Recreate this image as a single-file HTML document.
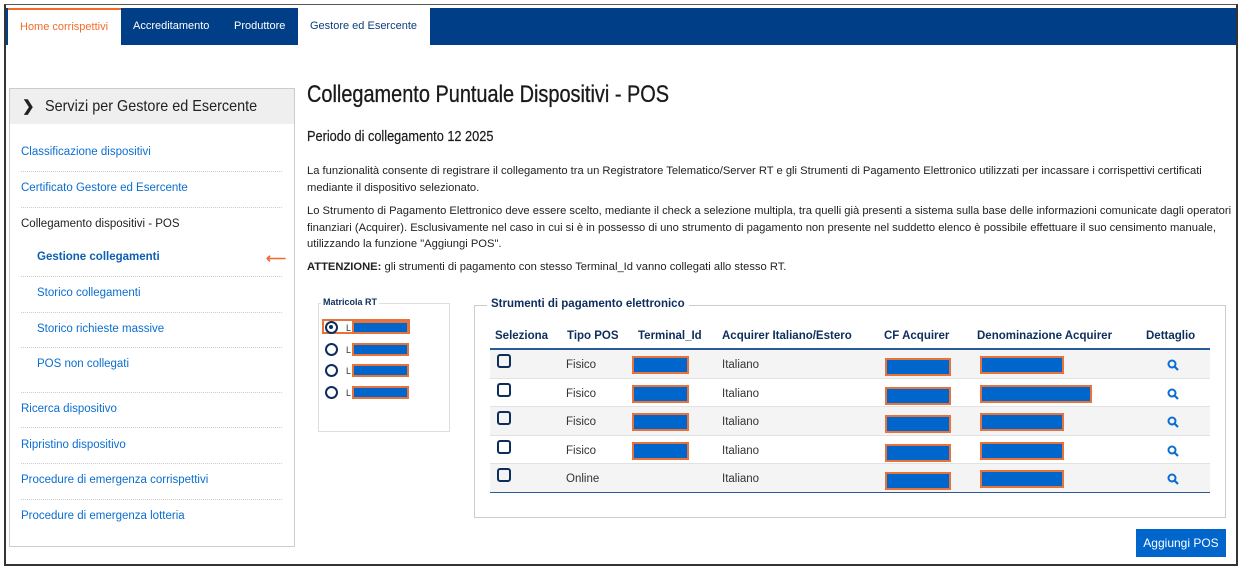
<!DOCTYPE html>
<html><head><meta charset="utf-8"><style>
*{box-sizing:border-box;margin:0;padding:0}
body{width:1242px;height:572px;background:#fff;font-family:"Liberation Sans",Arial,sans-serif;position:relative;overflow:hidden;color:#222}
.abs{position:absolute}
.frame{left:4px;top:4px;width:1234px;height:562px;border:2px solid #333;border-top:1px solid #555}
.nav{left:6px;top:8px;width:1230px;height:37px;background:#003f87}
.tab{top:8px;height:37px;font-size:11px;line-height:37px;padding:0 12px;color:#fff;white-space:nowrap}
.side{left:9px;top:88px;width:286px;height:459px;border:1px solid #ccc}
.sidehd{left:10px;top:89px;width:284px;height:35px;background:#efefef;font-size:16px;line-height:35px;color:#222}
.si{left:21px;font-size:11.5px;color:#0a6ed1;white-space:nowrap}
.dv{left:21px;width:261px;border-top:1px dotted #ccc;height:0}
.ptext{left:307px;font-size:11.2px;line-height:16.5px;color:#222;width:925px}
.red{background:#0066cc;border:2px solid #e8733a;height:18px}
.th{top:330px;font-size:11.5px;font-weight:bold;color:#0d2e5c;white-space:nowrap}
.td{font-size:11.5px;color:#333}
.cb{width:14px;height:14px;border:2px solid #0d2e5c;border-radius:3px}
.radio{width:13px;height:13px;border:2.5px solid #0d2e5c;border-radius:50%}
</style></head><body>
<div class="abs frame"></div>
<div class="abs nav"></div>
<div class="abs tab" style="left:8px;width:113px;background:#fff;color:#f26b2a;border-top:2px solid #f26b2a;line-height:35px">Home corrispettivi</div>
<div class="abs tab" style="left:121px">Accreditamento</div>
<div class="abs tab" style="left:222px">Produttore</div>
<div class="abs tab" style="left:298px;width:132px;background:#fff;color:#0d3e7a">Gestore ed Esercente</div>

<div class="abs side"></div>
<div class="abs sidehd"><span style="position:absolute;left:12px;font-weight:bold;font-size:15px">&#x276F;</span><span style="position:absolute;left:35px;display:inline-block;transform:scaleX(.9);transform-origin:left;white-space:nowrap">Servizi per Gestore ed Esercente</span></div>
<div class="abs si" style="top:146px">Classificazione dispositivi</div>
<div class="abs dv" style="top:171px"></div>
<div class="abs si" style="top:182px">Certificato Gestore ed Esercente</div>
<div class="abs dv" style="top:207px"></div>
<div class="abs si" style="top:218px;color:#222">Collegamento dispositivi - POS</div>
<div class="abs si" style="top:251px;left:37px;font-weight:bold;color:#0d5fb0">Gestione collegamenti</div>
<div class="abs" style="left:266px;top:251px;color:#f26b2a;font-size:14px;line-height:14px;font-weight:bold">&#x27F5;</div>
<div class="abs dv" style="top:276px"></div>
<div class="abs si" style="top:287px;left:37px">Storico collegamenti</div>
<div class="abs dv" style="top:312px"></div>
<div class="abs si" style="top:323px;left:37px">Storico richieste massive</div>
<div class="abs dv" style="top:347px"></div>
<div class="abs si" style="top:358px;left:37px">POS non collegati</div>
<div class="abs dv" style="top:392px"></div>
<div class="abs si" style="top:403px">Ricerca dispositivo</div>
<div class="abs dv" style="top:427px"></div>
<div class="abs si" style="top:439px">Ripristino dispositivo</div>
<div class="abs dv" style="top:463px"></div>
<div class="abs si" style="top:474px">Procedure di emergenza corrispettivi</div>
<div class="abs dv" style="top:499px"></div>
<div class="abs si" style="top:510px">Procedure di emergenza lotteria</div>

<div class="abs" style="left:307px;top:81px;font-size:24px;white-space:nowrap;transform:scaleX(.83);transform-origin:left;color:#1a1a1a;-webkit-text-stroke:0.3px #1a1a1a">Collegamento Puntuale Dispositivi - POS</div>
<div class="abs" style="left:307px;top:128px;font-size:15px;white-space:nowrap;transform:scaleX(.85);transform-origin:left;color:#1a1a1a;-webkit-text-stroke:0.2px #1a1a1a">Periodo di collegamento 12 2025</div>
<div class="abs ptext" style="top:163px">La funzionalità consente di registrare il collegamento tra un Registratore Telematico/Server RT e gli Strumenti di Pagamento Elettronico utilizzati per incassare i corrispettivi certificati mediante il dispositivo selezionato.</div>
<div class="abs ptext" style="top:203px">Lo Strumento di Pagamento Elettronico deve essere scelto, mediante il check a selezione multipla, tra quelli già presenti a sistema sulla base delle informazioni comunicate dagli operatori finanziari (Acquirer). Esclusivamente nel caso in cui si è in possesso di uno strumento di pagamento non presente nel suddetto elenco è possibile effettuare il suo censimento manuale, utilizzando la funzione "Aggiungi POS".</div>
<div class="abs ptext" style="top:259px"><b>ATTENZIONE:</b> gli strumenti di pagamento con stesso Terminal_Id vanno collegati allo stesso RT.</div>

<div class="abs" style="left:318px;top:303px;width:132px;height:129px;border:1px solid #ddd"></div>
<div class="abs" style="left:321px;top:297px;background:#fff;padding:0 2px;font-size:9px;font-weight:bold;color:#0d2e5c">Matricola RT</div>
<div class="abs" style="left:322px;top:319px;width:88px;height:15px;border:2px solid #e8733a"></div>
<div id="radios"></div>

<div class="abs" style="left:474px;top:305px;width:752px;height:213px;border:1px solid #ccc"></div>
<div class="abs" style="left:487px;top:298px;background:#fff;padding:0 4px;font-size:11.5px;font-weight:bold;color:#0d2e5c">Strumenti di pagamento elettronico</div>
<div class="abs th" style="left:495px">Seleziona</div>
<div class="abs th" style="left:567px">Tipo POS</div>
<div class="abs th" style="left:638px">Terminal_Id</div>
<div class="abs th" style="left:722px">Acquirer Italiano/Estero</div>
<div class="abs th" style="left:884px">CF Acquirer</div>
<div class="abs th" style="left:977px">Denominazione Acquirer</div>
<div class="abs th" style="left:1146px">Dettaglio</div>
<div class="abs" style="left:490px;top:348px;width:720px;height:2px;background:#2a5a9a"></div>
<div id="rows"></div>
<div class="abs" style="left:490px;top:492px;width:720px;height:1px;background:#2a5a9a"></div>

<div class="abs" style="left:1136px;top:529px;width:90px;height:28px;background:#0066cc;color:#fff;font-size:12px;line-height:28px;text-align:center">Aggiungi POS</div>

<script>
const tipo=["Fisico","Fisico","Fisico","Fisico","Online"];
const acq=["Italiano","Italiano","Italiano","Italiano","Italiano"];
const denomW=[84,112,84,84,84];
const rows=document.getElementById('rows');
tipo.forEach((t,i)=>{
  const y=350+i*28.5;
  const r=document.createElement('div');
  r.className='abs';
  
  
  r.style.cssText=`left:490px;top:${y}px;width:720px;height:28.5px;background:${i%2==0?'#f4f4f4':'#fff'};border-bottom:1px solid #e2e2e2`;
  r.innerHTML=`<div class="abs cb" style="left:7px;top:4px"></div>
  <div class="abs td" style="left:76px;top:9px">${t}</div>
  ${t==="Online"?'':'<div class="abs red" style="left:142px;top:6px;width:57px"></div>'}
  <div class="abs td" style="left:232px;top:9px">${acq[i]}</div>
  <div class="abs red" style="left:395px;top:8px;width:66px"></div>
  <div class="abs red" style="left:490px;top:6px;width:${denomW[i]}px"></div>
  <svg class="abs" style="left:677px;top:9px" width="12" height="12"><circle cx="5" cy="5" r="3.5" fill="none" stroke="#0a6ed1" stroke-width="2"/><line x1="7.5" y1="7.5" x2="11" y2="11" stroke="#0a6ed1" stroke-width="2.2"/></svg>`;
  rows.appendChild(r);
});
const rad=document.getElementById('radios');
[0,1,2,3].forEach(i=>{
  const y=320+i*21.5;
  const d=document.createElement('div');
  d.className='abs';
  
  
  d.style.cssText=`left:325px;top:${y}px;width:86px;height:15px`;
  d.innerHTML=`<div class="abs radio" style="left:0;top:1px">${i==0?'<div style="width:4px;height:4px;background:#0d2e5c;border-radius:50%;margin:2px"></div>':''}</div><span class="abs" style="left:21px;top:3px;font-size:9px;color:#333">L</span><div class="abs red" style="left:27px;top:1px;width:57px;height:13px"></div>`;
  rad.appendChild(d);
});
</script>
</body></html>
